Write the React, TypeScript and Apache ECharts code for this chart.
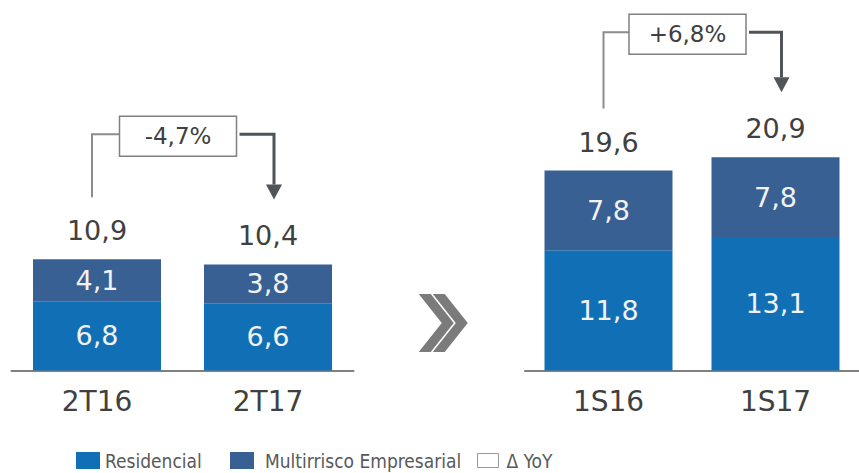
import React, { useEffect, useRef } from "react";
import * as echarts from "echarts";

const categoriesLeft = ["2T16", "2T17"];
const categoriesRight = ["1S16", "1S17"];
const residencialLeft = [6.8, 6.6];
const multirriscoLeft = [4.1, 3.8];
const totalLeft = [10.9, 10.4];
const residencialRight = [11.8, 13.1];
const multirriscoRight = [7.8, 7.8];
const totalRight = [19.6, 20.9];
const yoyLabels = ["-4,7%", "+6,8%"];
const seriesNames = ["Residencial", "Multirrisco Empresarial", "Δ YoY"];

const COLOR_RES = "#1170b5";
const COLOR_MULTI = "#386092";
const FONT = "'DejaVu Sans', Verdana, sans-serif";
const LEGEND_FONT = "'DejaVu Sans Condensed', 'DejaVu Sans', sans-serif";
const fmt = (v: number) => v.toFixed(1).replace(".", ",");

export default function App() {
  const ref = useRef<HTMLDivElement>(null);
  useEffect(() => {
    if (!ref.current) return;
    const chart = echarts.init(ref.current, null, { renderer: "svg" });
    const panels = [
      { cats: categoriesLeft, res: residencialLeft, multi: multirriscoLeft, tot: totalLeft, left: 11.5 },
      { cats: categoriesRight, res: residencialRight, multi: multirriscoRight, tot: totalRight, left: 525 },
    ];
    const grids = panels.map((p) => ({ left: p.left, width: 342, top: 64.5, height: 306 }));
    const xAxes = panels.map((p, g) => ({
      type: "category",
      gridIndex: g,
      data: p.cats,
      axisTick: { show: false },
      axisLine: { lineStyle: { color: "#808080", width: 2 } },
      axisLabel: { fontSize: 28, color: "#404040", margin: 17, fontFamily: FONT },
    }));
    const yAxes = panels.map((p, g) => ({ type: "value", gridIndex: g, min: 0, max: 30, show: false }));
    const series: any[] = [];
    panels.forEach((p, g) => {
      series.push({
        type: "bar", name: seriesNames[0], xAxisIndex: g, yAxisIndex: g, stack: "s" + g,
        data: p.res, barWidth: 128, barGap: "-100%",
        itemStyle: { color: COLOR_RES },
        label: { show: true, position: "inside", color: "#f2f2f2", fontSize: 27, fontFamily: FONT, formatter: (d: any) => fmt(d.value) },
      });
      series.push({
        type: "bar", name: seriesNames[1], xAxisIndex: g, yAxisIndex: g, stack: "s" + g,
        data: p.multi, barWidth: 128, barGap: "-100%",
        itemStyle: { color: COLOR_MULTI },
        label: { show: true, position: "inside", color: "#f2f2f2", fontSize: 27, fontFamily: FONT, formatter: (d: any) => fmt(d.value) },
      });
      series.push({
        type: "bar", name: "total" + g, xAxisIndex: g, yAxisIndex: g,
        data: p.tot, barWidth: 128, barGap: "-100%", silent: true, z: 1,
        itemStyle: { color: "rgba(0,0,0,0)" },
        label: { show: true, position: "top", distance: 15, color: "#404040", fontSize: 27, fontFamily: FONT, formatter: (d: any) => fmt(d.value) },
      });
    });
    series.push({ type: "scatter", name: seriesNames[2], data: [], xAxisIndex: 0, yAxisIndex: 0 });

    const legendText = { fontSize: 19, color: "#595959", fontFamily: LEGEND_FONT };
    chart.setOption({
      animation: false,
      grid: grids,
      xAxis: xAxes,
      yAxis: yAxes,
      series,
      legend: [
        { data: [{ name: seriesNames[0], icon: "rect" }], left: 76, top: 448, padding: [3, 5, 3, 0], itemWidth: 24, itemHeight: 17, textStyle: legendText, selectedMode: false },
        { data: [{ name: seriesNames[1], icon: "rect" }], left: 230, top: 448, padding: [3, 5, 3, 0], itemWidth: 24, itemHeight: 17, textStyle: { ...legendText, padding: [0, 0, 0, 6] }, selectedMode: false },
        {
          data: [{ name: seriesNames[2], icon: "rect", itemStyle: { color: "#ffffff", borderColor: "#7f7f7f", borderWidth: 1 } }],
          left: 477, top: 448, padding: [3, 5, 3, 0], itemWidth: 21, itemHeight: 14, textStyle: { ...legendText, padding: [0, 0, 0, 3] }, selectedMode: false,
        },
      ],
    });

    const graphic: any[] = [];
    panels.forEach((p, g) => {
      const p1 = chart.convertToPixel({ xAxisIndex: g, yAxisIndex: g } as any, [0, p.tot[0]]) as number[];
      const p2 = chart.convertToPixel({ xAxisIndex: g, yAxisIndex: g } as any, [1, p.tot[1]]) as number[];
      const x1 = p1[0] - 5;
      const x2 = p2[0] + 6;
      const y1b = p1[1] - 62;
      const tipY = p2[1] - 65;
      const topY = Math.min(p1[1], p2[1]) - 125;
      const boxCx = (p1[0] + p2[0]) / 2 - 4.5;
      const bw = 117, bh = 40;
      const light = { stroke: "#8c8c8c", lineWidth: 2 };
      const dark = { stroke: "#50555a", lineWidth: 3 };
      graphic.push({ type: "polyline", shape: { points: [[x1, y1b], [x1, topY], [boxCx - bw / 2, topY]] }, style: { ...light, fill: null } });
      graphic.push({ type: "rect", shape: { x: boxCx - bw / 2, y: topY + 2 - bh / 2, width: bw, height: bh }, style: { fill: "#ffffff", stroke: "#808080", lineWidth: 1.5 } });
      graphic.push({ type: "text", x: boxCx, y: topY + 2, style: { text: yoyLabels[g], fontSize: 23, fontFamily: FONT, fill: "#404040", align: "center", verticalAlign: "middle" } });
      graphic.push({ type: "polyline", shape: { points: [[boxCx + bw / 2 + 3, topY], [x2, topY], [x2, tipY - 15]] }, style: { ...dark, fill: null } });
      graphic.push({ type: "polygon", shape: { points: [[x2 - 8, tipY - 15], [x2 + 8, tipY - 15], [x2, tipY]] }, style: { fill: "#50555a" } });
    });
    // chevrons between panels
    const a = chart.convertToPixel({ xAxisIndex: 0, yAxisIndex: 0 } as any, [1, 0]) as number[];
    const b = chart.convertToPixel({ xAxisIndex: 1, yAxisIndex: 1 } as any, [0, 0]) as number[];
    const cx = (a[0] + b[0]) / 2;
    const cy = a[1] - 47.5;
    [0, 14].forEach((off) => {
      const x0 = cx - 19.5 + off;
      graphic.push({
        type: "polygon",
        shape: { points: [[x0, cy - 29], [x0 + 12, cy - 29], [x0 + 35, cy], [x0 + 12, cy + 29], [x0, cy + 29], [x0 + 23, cy]] },
        style: { fill: "#7b7b7b" },
      });
    });
    chart.setOption({ graphic });

    return () => chart.dispose();
  }, []);
  return <div ref={ref} style={{ position: "fixed", left: 0, top: 0, width: 859, height: 473, background: "#fff" }} />;
}
